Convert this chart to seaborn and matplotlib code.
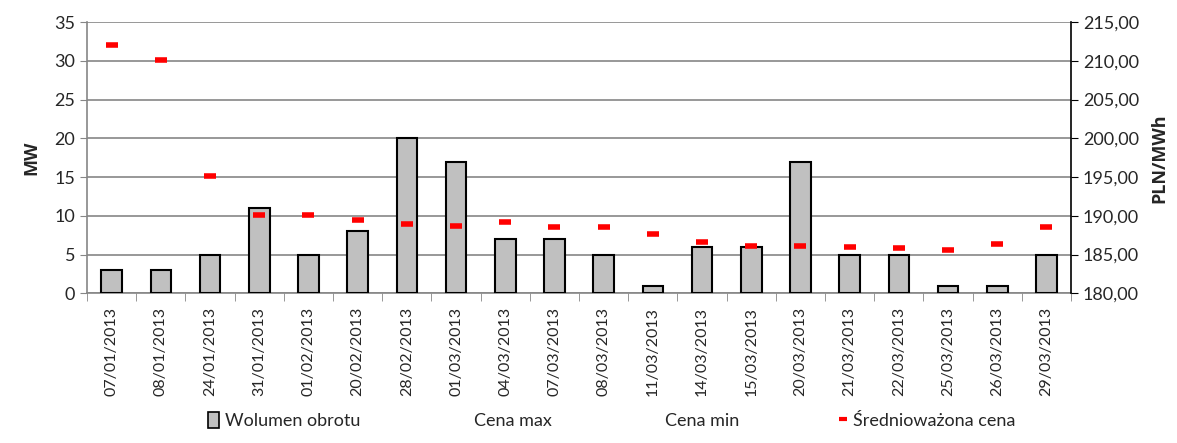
import numpy as np
import pandas as pd
import matplotlib
matplotlib.use("Agg")
import matplotlib.pyplot as plt
import matplotlib.ticker as mtick
from matplotlib.patches import Patch
from matplotlib.lines import Line2D
import seaborn as sb

# session dates, traded volume (MW) and weighted average price (PLN/MWh)
dates = ["07/01/2013", "08/01/2013", "24/01/2013", "31/01/2013", "01/02/2013",
         "20/02/2013", "28/02/2013", "01/03/2013", "04/03/2013", "07/03/2013",
         "08/03/2013", "11/03/2013", "14/03/2013", "15/03/2013", "20/03/2013",
         "21/03/2013", "22/03/2013", "25/03/2013", "26/03/2013", "29/03/2013"]
volume = [3, 3, 5, 11, 5, 8, 20, 17, 7, 7, 5, 1, 6, 6, 17, 5, 5, 1, 1, 5]
avg_price = [212.0, 210.1, 195.1, 190.1, 190.1, 189.5, 189.0, 188.7, 189.2, 188.6,
             188.6, 187.6, 186.6, 186.1, 186.1, 186.0, 185.9, 185.6, 186.4, 188.6]

data = pd.DataFrame({"Data": dates, "Wolumen obrotu": volume,
                     "Średnioważona cena": avg_price})
data["pos"] = np.arange(len(data))

sb.set_style("white")
plt.rcParams["font.family"] = ["Lato", "DejaVu Sans"]

fig = plt.figure(figsize=(11.77, 4.43), dpi=100)
ax = fig.add_axes([0.0740, 0.338, 0.836, 0.612])

sb.barplot(data=data, x="Data", y="Wolumen obrotu", color="#c0c0c0",
           edgecolor="black", linewidth=1.5, width=0.42, saturation=1, ax=ax, zorder=3)
ax.set_ylim(0, 35)
ax.set_xlim(-0.5, len(dates) - 0.5)
ax.yaxis.set_major_locator(mtick.MultipleLocator(5))
ax.grid(axis="y", color="#868686", linewidth=1.2, zorder=0)
ax.set_axisbelow(True)
ax.set_xlabel("")
ax.set_ylabel("MW", fontsize=13, fontweight="bold", family=["Open Sans", "DejaVu Sans"], labelpad=10)
ax.tick_params(axis="y", labelsize=13, length=5, direction="out", color="#868686", left=True)
ax.set_xticks(range(len(dates)))
ax.set_xticklabels(dates, rotation=90, fontsize=11.5)
ax.tick_params(axis="x", which="major", length=0, pad=10)
ax.set_xticks(np.arange(-0.5, len(dates)), minor=True)
ax.tick_params(axis="x", which="minor", length=6, direction="out", color="#868686", bottom=True)
for s in ["top", "right"]:
    ax.spines[s].set_visible(False)
ax.spines["left"].set_color("#868686")
ax.spines["bottom"].set_color("#868686")
ax.spines["left"].set_linewidth(1.2)
ax.spines["bottom"].set_linewidth(1.2)

ax2 = ax.twinx()
sb.scatterplot(data=data, x="pos", y="Średnioważona cena", marker="_", s=80,
               linewidth=4, color="#ff0000", ax=ax2, zorder=4, legend=False)
ax2.set_ylim(180, 215)
ax2.yaxis.set_major_locator(mtick.MultipleLocator(5))
ax2.yaxis.set_major_formatter(mtick.FuncFormatter(lambda v, p: f"{v:.2f}".replace(".", ",")))
ax2.set_ylabel("PLN/MWh", fontsize=13, fontweight="bold", family=["Open Sans", "DejaVu Sans"], labelpad=8)
ax2.tick_params(axis="y", labelsize=13, length=5, direction="out", color="black", right=True)
for s in ["top", "left", "bottom"]:
    ax2.spines[s].set_visible(False)
ax2.spines["right"].set_color("black")
ax2.spines["right"].set_linewidth(1.2)
ax2.set_xlim(-0.5, len(dates) - 0.5)
ax2.set_xlabel("")

handles = [
    Patch(facecolor="#c0c0c0", edgecolor="black", linewidth=1.2),
    Line2D([], [], linestyle="none"),
    Line2D([], [], linestyle="none"),
    Line2D([], [], linestyle="none", marker="_", color="#ff0000", markersize=6, markeredgewidth=3),
]
labels = ["Wolumen obrotu", "Cena max", "Cena min", "Średnioważona cena"]
fig.legend(handles, labels, loc="lower center", bbox_to_anchor=(0.52, -0.005), ncol=4,
           frameon=False, fontsize=13, handlelength=0.6, handleheight=1.0,
           handletextpad=0.3, columnspacing=5.4)

fig.savefig("out.png", dpi=100)
